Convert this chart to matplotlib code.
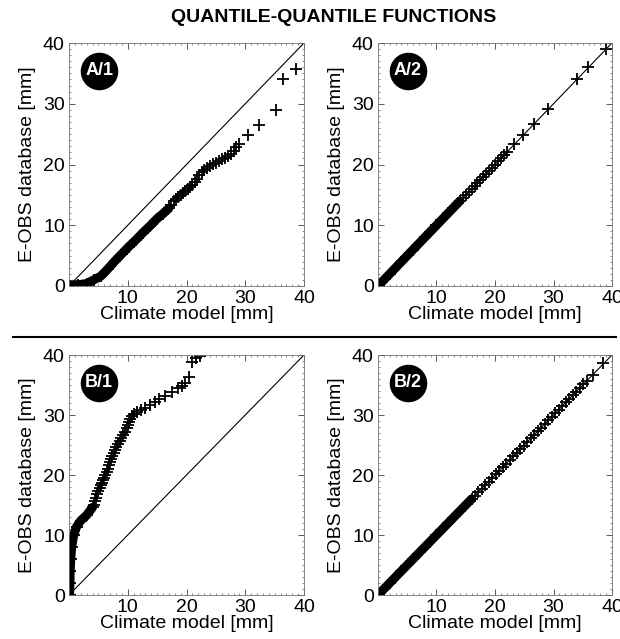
import matplotlib
matplotlib.use("Agg")
import matplotlib.pyplot as plt
from matplotlib.lines import Line2D
from matplotlib.ticker import MultipleLocator

plt.rcParams['font.family'] = ['Liberation Sans', 'DejaVu Sans']

# ---- quantile pairs (model mm, E-OBS mm) ----
# "dense" = saturated part of the Q-Q cloud, "tail" = separately visible crosses

# A/1: raw climate model
a1_dense_model = [0.0, 1.5, 3.0, 4.2, 5.4, 6.6, 7.8, 9.0, 10.2, 11.4, 12.6, 13.8,
                  15.0, 16.0, 17.0]
a1_dense_obs = [0.2, 0.2, 0.4, 1.0, 1.6, 2.8, 4.1, 5.3, 6.5, 7.6, 8.8, 9.9,
                11.1, 11.9, 12.8]
a1_tail_model = [17.4, 17.8, 18.2, 18.6, 19.0, 19.4, 19.8, 20.2, 20.6, 21.0, 21.4,
                 21.8, 22.2, 22.6, 23.0, 23.5, 24.0, 24.5, 25.0, 25.5, 26.0, 26.5,
                 27.0, 27.5, 28.0, 28.4, 28.9, 30.5, 32.4, 35.2, 36.4, 38.6]
a1_tail_obs = [13.3, 14.0, 14.4, 14.7, 15.0, 15.3, 15.6, 15.9, 16.3, 16.7, 17.2,
               17.6, 18.2, 18.7, 19.1, 19.5, 19.8, 20.1, 20.3, 20.6, 20.9, 21.1,
               21.4, 21.8, 22.3, 22.8, 23.3, 24.8, 26.5, 29.0, 34.1, 35.7]

# A/2: bias-corrected model
a2_dense_model = [0.2, 2.0, 4.0, 6.0, 8.0, 10.0, 12.0, 14.0]
a2_dense_obs = [0.2, 2.0, 4.0, 6.0, 8.0, 10.0, 12.0, 14.0]
a2_tail_model = [14.5, 15.0, 15.5, 16.0, 16.5, 17.0, 17.5, 18.0, 18.5, 19.0, 19.5,
                 20.0, 20.5, 21.0, 21.5, 22.0, 23.2, 24.8, 26.6, 29.0, 34.0, 35.9,
                 39.0]
a2_tail_obs = [14.5, 15.0, 15.5, 16.0, 16.5, 17.0, 17.5, 18.0, 18.5, 19.0, 19.5,
               20.0, 20.5, 21.0, 21.5, 22.0, 23.3, 24.9, 26.6, 29.1, 34.1, 36.0,
               39.0]

# B/1: raw climate model
b1_dense_model = [0.1, 0.15, 0.2, 0.3, 0.45, 0.8, 1.3, 2.0, 3.0, 4.0]
b1_dense_obs = [0.0, 2.0, 4.0, 6.0, 8.0, 10.0, 11.4, 12.4, 13.3, 14.6]
b1_tail_model = [4.2, 4.4, 4.6, 4.8, 5.0, 5.2, 5.4, 5.6, 5.8, 6.0, 6.2, 6.4, 6.6,
                 6.8, 7.0, 7.2, 7.4, 7.6, 7.8, 8.0, 8.3, 8.6, 8.9, 9.2, 9.5, 9.8,
                 10.0, 10.2, 10.4, 10.7, 11.0, 11.5, 12.2, 13.0, 13.8, 14.6, 15.4,
                 16.3, 17.5, 18.6, 19.2, 19.8, 20.4, 21.0, 21.6, 22.3]
b1_tail_obs = [15.0, 15.6, 16.2, 16.8, 17.3, 17.8, 18.3, 18.7, 19.1, 19.5, 20.0,
               20.5, 21.0, 21.6, 22.1, 22.7, 23.2, 23.7, 24.2, 24.6, 25.1, 25.6,
               26.2, 26.7, 27.2, 27.8, 28.3, 28.8, 29.4, 29.9, 30.2, 30.5, 30.8,
               31.2, 31.6, 32.1, 32.6, 33.2, 33.8, 34.5, 34.9, 35.4, 36.4, 38.8,
               39.5, 39.9]

# B/2: bias-corrected model
b2_dense_model = [0.2, 2.0, 4.0, 6.0, 8.0, 10.0, 12.0, 14.0, 16.0]
b2_dense_obs = [0.2, 2.0, 4.0, 6.0, 8.0, 10.0, 12.0, 14.0, 16.0]
b2_tail_model = [16.5, 17.1, 17.7, 18.3, 18.9, 19.5, 20.1, 20.7, 21.3, 21.9, 22.5,
                 23.1, 23.7, 24.3, 24.9, 25.5, 26.1, 26.7, 27.3, 27.9, 28.5, 29.1,
                 29.7, 30.3, 30.9, 31.5, 32.1, 32.7, 33.3, 33.9, 34.5, 35.1, 35.7,
                 36.7, 38.5]
b2_tail_obs = [16.5, 17.1, 17.7, 18.3, 18.9, 19.5, 20.1, 20.7, 21.3, 21.9, 22.5,
               23.1, 23.7, 24.3, 24.9, 25.5, 26.1, 26.7, 27.3, 27.9, 28.5, 29.1,
               29.7, 30.3, 30.9, 31.5, 32.1, 32.7, 33.3, 33.9, 34.5, 35.1, 35.7,
               36.6, 38.7]

panels = [
    ("A/1", a1_dense_model, a1_dense_obs, a1_tail_model, a1_tail_obs, [69, 43, 304, 286]),
    ("A/2", a2_dense_model, a2_dense_obs, a2_tail_model, a2_tail_obs, [378, 43, 612, 286]),
    ("B/1", b1_dense_model, b1_dense_obs, b1_tail_model, b1_tail_obs, [69, 355, 304, 595]),
    ("B/2", b2_dense_model, b2_dense_obs, b2_tail_model, b2_tail_obs, [378, 355, 612, 595]),
]

W, H = 620, 639
fig = plt.figure(figsize=(W / 100, H / 100), dpi=100)

for tag, dx, dy, tx, ty, (l, t, r, b) in panels:
    ax = fig.add_axes([l / W, 1 - b / H, (r - l) / W, (b - t) / H])
    ax.plot([0, 40], [0, 40], color='black', lw=0.8)
    # saturated part of the cloud: overlapping crosses form a solid band
    ax.plot(dx, dy, '-', color='black', lw=6.5, solid_capstyle='round')
    ax.plot(dx, dy, '+', color='black', ms=9, mew=1.3)
    ax.plot(tx, ty, '+', color='black', ms=8.5, mew=1.3)
    ax.set_xlim(0, 40)
    ax.set_ylim(0, 40)
    ax.set_xticks([10, 20, 30, 40])
    ax.set_yticks([0, 10, 20, 30, 40])
    ax.xaxis.set_minor_locator(MultipleLocator(1))
    ax.yaxis.set_minor_locator(MultipleLocator(1))
    ax.tick_params(which='both', direction='in', top=True, right=True,
                   color='0.35', labelsize=14)
    ax.tick_params(which='major', length=4, width=0.7, pad=3)
    ax.tick_params(which='minor', length=1.5, width=0.5)
    for s in ax.spines.values():
        s.set_color('0.45')
        s.set_linewidth(0.6)
    ax.set_xlabel('Climate model [mm]', fontsize=14, labelpad=-1)
    ax.set_ylabel('E-OBS database [mm]', fontsize=14, labelpad=5)
    # black round badge
    ax.plot([0.128], [0.885], 'o', transform=ax.transAxes, ms=26,
            color='black', clip_on=False)
    ax.text(0.128, 0.885, tag, transform=ax.transAxes, color='white',
            fontsize=13, fontweight='bold', ha='center', va='center')

fig.text(334 / W, 1 - 18 / H, 'QUANTILE-QUANTILE FUNCTIONS', ha='center',
         va='center', fontsize=14, fontweight='bold')
fig.add_artist(Line2D([13 / W, 616 / W], [1 - 337 / H, 1 - 337 / H],
                      color='black', lw=1.5))

fig.savefig('out.png', dpi=100)
